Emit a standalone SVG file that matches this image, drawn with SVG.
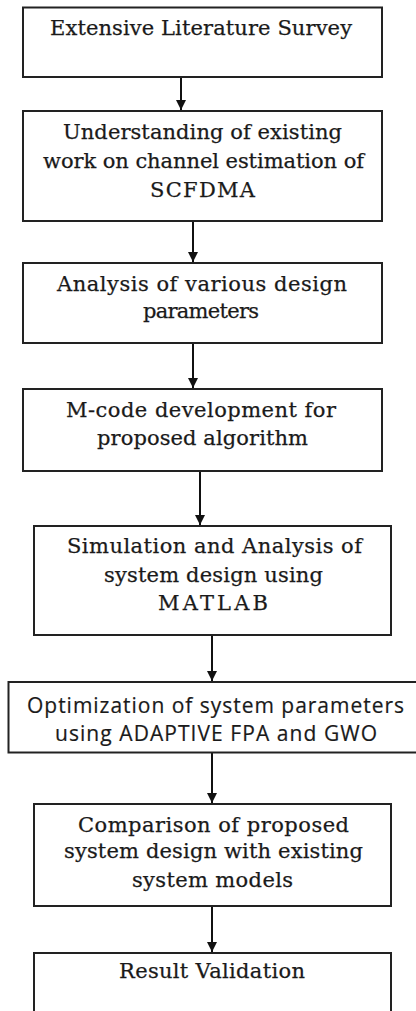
<svg xmlns="http://www.w3.org/2000/svg" width="416" height="1011" viewBox="0 0 416 1011">
<defs>
<style>
.box{fill:#fff;stroke:#222;stroke-width:2}
.t{font-family:"DejaVu Serif","Liberation Serif",serif;font-size:21px;fill:#1a1a1a;stroke:#1a1a1a;stroke-width:0.25;text-anchor:middle}
.s{font-family:"Open Sans","Liberation Sans",sans-serif;font-size:21px;fill:#1a1a1a;stroke:#1a1a1a;stroke-width:0.2;text-anchor:middle}
.c{stroke:#111;stroke-width:2;fill:none;marker-end:url(#ah)}
</style>
<marker id="ah" viewBox="0 0 10 10" refX="10" refY="5" markerWidth="5" markerHeight="5" orient="auto" markerUnits="strokeWidth">
<path d="M0,0 L10,5 L0,10 z" fill="#111"/>
</marker>
</defs>
<rect width="416" height="1011" fill="#fff"/>
<g id="connectors">
<line class="c" x1="181" y1="77" x2="181" y2="110"/>
<line class="c" x1="193" y1="221" x2="193" y2="262"/>
<line class="c" x1="193" y1="343" x2="193" y2="388"/>
<line class="c" x1="200" y1="471" x2="200" y2="525"/>
<line class="c" x1="212" y1="635" x2="212" y2="681"/>
<line class="c" x1="212" y1="753" x2="212" y2="803"/>
<line class="c" x1="212" y1="906" x2="212" y2="952"/>
</g>
<g id="n1">
<rect class="box" x="23" y="7.5" width="359" height="69.5"/>
<text class="t" x="201" y="35" textLength="302" lengthAdjust="spacing">Extensive Literature Survey</text>
</g>
<g id="n2">
<rect class="box" x="23" y="111" width="359" height="110"/>
<text class="t" x="202.5" y="139" textLength="279" lengthAdjust="spacing">Understanding of existing</text>
<text class="t" x="203.5" y="168" textLength="321" lengthAdjust="spacing">work on channel estimation of</text>
<text class="t" x="202.5" y="197" textLength="105" lengthAdjust="spacing">SCFDMA</text>
</g>
<g id="n3">
<rect class="box" x="23" y="263" width="359" height="80"/>
<text class="t" x="202" y="291" textLength="290" lengthAdjust="spacing">Analysis of various design</text>
<text class="t" x="201" y="318" textLength="116" lengthAdjust="spacing">parameters</text>
</g>
<g id="n4">
<rect class="box" x="23" y="389" width="359" height="82"/>
<text class="t" x="201" y="417" textLength="270" lengthAdjust="spacing">M-code development for</text>
<text class="t" x="202.5" y="445" textLength="211" lengthAdjust="spacing">proposed algorithm</text>
</g>
<g id="n5">
<rect class="box" x="34" y="526" width="357" height="109"/>
<text class="t" x="214.5" y="553" textLength="295" lengthAdjust="spacing">Simulation and Analysis of</text>
<text class="t" x="213.5" y="582" textLength="219" lengthAdjust="spacing">system design using</text>
<text class="t" x="213" y="610" textLength="110" lengthAdjust="spacing">MATLAB</text>
</g>
<g id="n6">
<rect class="box" x="8.5" y="682" width="415" height="70.5"/>
<text class="s" x="215.5" y="713" textLength="377" lengthAdjust="spacing">Optimization of system parameters</text>
<text class="s" x="216" y="741" textLength="322" lengthAdjust="spacing">using ADAPTIVE FPA and GWO</text>
</g>
<g id="n7">
<rect class="box" x="34" y="804" width="357" height="102"/>
<text class="t" x="213.5" y="832" textLength="271" lengthAdjust="spacing">Comparison of proposed</text>
<text class="t" x="213.5" y="858" textLength="299" lengthAdjust="spacing">system design with existing</text>
<text class="t" x="212.5" y="887" textLength="161" lengthAdjust="spacing">system models</text>
</g>
<g id="n8">
<rect class="box" x="34" y="953" width="357" height="70"/>
<text class="t" x="212" y="978" textLength="186" lengthAdjust="spacing">Result Validation</text>
</g>
</svg>
